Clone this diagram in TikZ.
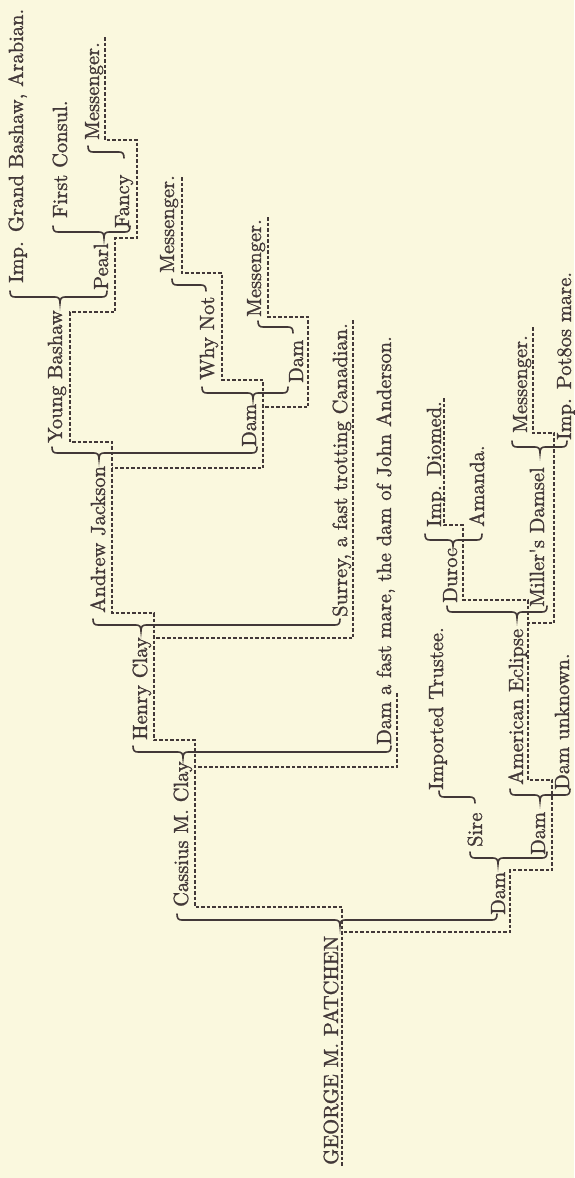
\documentclass[tikz,border=0pt]{standalone}
\usepackage{xcolor}
\definecolor{paper}{RGB}{250,248,222}
\definecolor{ink}{RGB}{66,56,56}
\font\pedfont="[lmroman10-regular]:+tlig;embolden=1.3" at 20.5pt
% full brace: #1 = Y of the bar, #2 = left end, #3 = tip, #4 = right end
\newcommand{\pbrace}[4]{%
  \draw[bracestyle] (#2,#1-6) .. controls (#2,#1-1.5) and (#2+1.5,#1) .. (#2+5,#1)
    -- (#3-5,#1) .. controls (#3-1.5,#1) and (#3,#1+1.5) .. (#3,#1+6)
    .. controls (#3,#1+1.5) and (#3+1.5,#1) .. (#3+5,#1)
    -- (#4-5,#1) .. controls (#4-1.5,#1) and (#4,#1-1.5) .. (#4,#1-6);}
% half brace: sire end at #2 (hook up), tip at #3 (hook down)
\newcommand{\phalf}[3]{%
  \draw[bracestyle] (#2,#1-6) .. controls (#2,#1-1.5) and (#2+1.5,#1) .. (#2+5,#1)
    -- (#3-5,#1) .. controls (#3-1.5,#1) and (#3,#1+1.5) .. (#3,#1+6);}
\begin{document}
\begin{tikzpicture}[x=1pt,y=-1pt,
  lbl/.style={rotate=90,anchor=base west,inner sep=0pt,text=ink,font=\pedfont},
  bracestyle/.style={draw=ink,line width=1.6pt,line cap=round},
  dashline/.style={draw=ink,line width=1.1pt,dash pattern=on 3.5pt off 2pt}]
\fill[paper] (0,0) rectangle (574,1178);
\useasboundingbox (0,0) rectangle (574,1178);

% ---- names (baseline X, start Y) ----
\node[lbl] (igb)  at (23,283)  {Imp. Grand Bashaw, Arabian.};
\node[lbl] (fc)   at (67,218)  {First Consul.};
\node[lbl] (mes1) at (99,140)  {Messenger.};
\node[lbl] (pearl) at (108,290) {Pearl};
\node[lbl] (fancy) at (129,228) {Fancy};
\node[lbl] (yb)   at (62,443)  {Young Bashaw};
\node[lbl] (mes2) at (174,273) {Messenger.};
\node[lbl] (wn)   at (214,380) {Why Not};
\node[lbl] (mes3) at (261,317) {Messenger.};
\node[lbl] (dam1) at (256,447) {Dam};
\node[lbl] (dam2) at (303,383) {Dam};
\node[lbl] (aj)   at (105,613) {Andrew Jackson};
\node[lbl] (hc)   at (147,740) {Henry Clay};
\node[lbl] (sur)  at (347,617) {Surrey, a fast trotting Canadian.};
\node[lbl] (dfm)  at (391,745) {Dam a fast mare, the dam of John Anderson.};
\node[lbl] (cmc)  at (188,907) {Cassius M. Clay};
\node[lbl] (gmp)  at (338,1165) {GEORGE M. PATCHEN};
\node[lbl] (dio)  at (441,527) {Imp. Diomed.};
\node[lbl] (ama)  at (484,527) {Amanda.};
\node[lbl] (dur)  at (457,603) {Duroc};
\node[lbl] (mes4) at (527,433) {Messenger.};
\node[lbl] (md)   at (544,607) {Miller's Damsel};
\node[lbl] (pot)  at (571,440) {Imp. Pot8os mare.};
\node[lbl] (ae)   at (523,785) {American Eclipse};
\node[lbl] (du)   at (569,790) {Dam unknown.};
\node[lbl] (it)   at (443,790) {Imported Trustee.};
\node[lbl] (sire) at (482,847) {Sire};
\node[lbl] (dam3) at (545,855) {Dam};
\node[lbl] (damg) at (505,915) {Dam};

% ---- braces ----
\pbrace{920}{177}{340}{497}
\pbrace{752}{133}{183}{391}
\pbrace{625}{93}{141}{340}
\pbrace{453}{52}{99}{257}
\pbrace{297}{10}{60}{107}
\pbrace{232}{53}{104}{130}
\pbrace{393}{202}{253}{288}
\pbrace{540}{425}{453}{482}
\pbrace{447}{512}{540}{567}
\pbrace{612}{447}{517}{547}
\pbrace{795}{510}{540}{570}
\pbrace{858}{470}{498}{547}
\phalf{152}{88}{124}
\phalf{285}{172}{206}
\phalf{327}{258}{293}
\phalf{797}{439}{475}

% ---- dashed underlines ----
\draw[dashline] (105,37) -- (105,140) -- (137,140) -- (137,238) -- (115,238)
  -- (115,312) -- (70,312) -- (70,442) -- (112,442) -- (112,613) -- (154,613)
  -- (154,740) -- (195,740) -- (195,907) -- (342,907) -- (342,1167);
\draw[dashline] (182,177) -- (182,273) -- (222,273) -- (222,380) -- (263,380)
  -- (263,468) -- (112,468);
\draw[dashline] (268,217) -- (268,317) -- (308,317) -- (308,407) -- (263,407);
\draw[dashline] (353,320) -- (353,638) -- (154,638);
\draw[dashline] (397,693) -- (397,767) -- (195,767);
\draw[dashline] (444,398) -- (444,525) -- (463,525) -- (463,600) -- (528,600)
  -- (528,780) -- (552,780) -- (552,870) -- (510,870) -- (510,932) -- (342,932);
\draw[dashline] (533,327) -- (533,433) -- (554,433) -- (554,623) -- (528,623);
\end{tikzpicture}
\end{document}
